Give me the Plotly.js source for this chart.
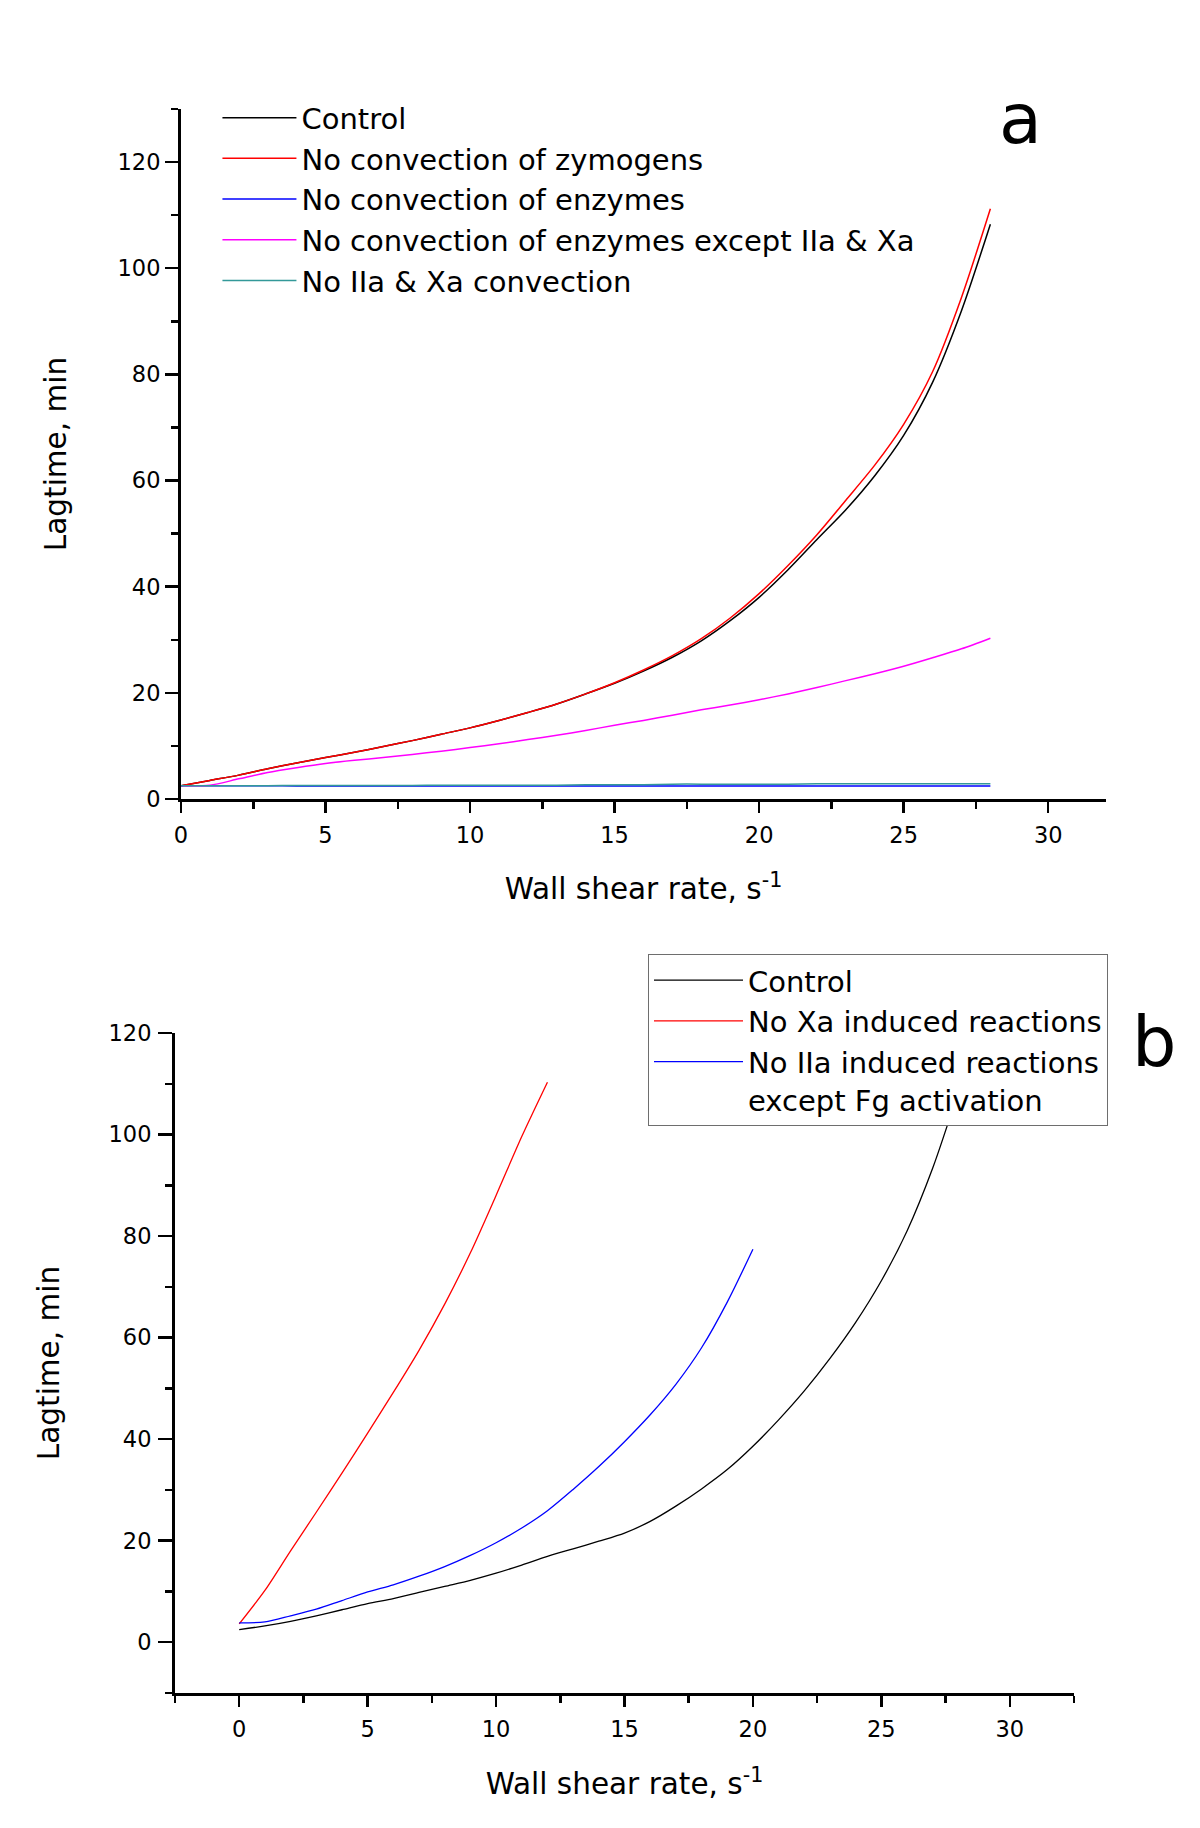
<!DOCTYPE html>
<html>
<head>
<meta charset="utf-8">
<script src="https://cdn.plot.ly/plotly-3.0.1.min.js"></script>
<style>
  body { margin: 0; background: #fff; }
  #grafico { width: 1200px; height: 1828px; }
</style>
</head>
<body>
<div id="grafico"></div>
<script>
// panel a: wall shear rate, s^-1
const xA = [0, 1, 2, 3, 4, 5, 6, 7, 8, 9, 10, 11, 12, 13, 14, 15, 16, 17, 18, 19, 20, 21, 22, 23, 24, 25, 26, 27, 28];
const controlA = [2.5, 3.5, 4.5, 5.7, 6.8, 7.8, 8.8, 9.9, 11.0, 12.2, 13.4, 14.8, 16.3, 17.9, 19.8, 21.8, 24.1, 26.7, 29.8, 33.6, 38.0, 43.2, 48.9, 54.5, 60.9, 68.5, 78.5, 92.0, 108.3];
const zymogensA = [2.5, 3.5, 4.5, 5.7, 6.8, 7.8, 8.8, 9.9, 11.0, 12.2, 13.4, 14.8, 16.3, 17.9, 19.8, 21.9, 24.3, 27.0, 30.2, 34.1, 38.7, 44.0, 49.8, 56.3, 62.9, 70.6, 80.5, 94.5, 111.2];
const enzymesA = [2.5, 2.5, 2.5, 2.5, 2.45, 2.45, 2.45, 2.45, 2.45, 2.45, 2.45, 2.45, 2.45, 2.45, 2.45, 2.45, 2.45, 2.45, 2.45, 2.45, 2.45, 2.45, 2.45, 2.45, 2.45, 2.45, 2.45, 2.45, 2.45];
const exceptA = [2.5, 2.6, 3.8, 5.0, 5.9, 6.7, 7.3, 7.8, 8.4, 9.0, 9.7, 10.4, 11.2, 12.0, 12.9, 13.9, 14.8, 15.8, 16.8, 17.7, 18.7, 19.8, 21.0, 22.3, 23.6, 25.0, 26.6, 28.3, 30.3];
const noIIaXaA = [2.5, 2.5, 2.5, 2.5, 2.55, 2.55, 2.55, 2.55, 2.55, 2.6, 2.6, 2.6, 2.6, 2.6, 2.7, 2.7, 2.7, 2.8, 2.8, 2.8, 2.8, 2.8, 2.85, 2.85, 2.85, 2.85, 2.85, 2.85, 2.85];
const namesA = ['Control', 'No convection of zymogens', 'No convection of enzymes',
                'No convection of enzymes except IIa & Xa', 'No IIa & Xa convection'];
const colorsA = ['#000000', '#ff0000', '#0000ff', '#ff00ff', '#339999'];

// panel b
const xB = [0, 1, 2, 3, 4, 5, 6, 7, 8, 9, 10, 11, 12, 13, 14, 15, 16, 17, 18, 19, 20, 21, 22, 23, 24, 25, 26, 27, 28];
const controlB = [2.5, 3.2, 4.1, 5.2, 6.4, 7.6, 8.6, 9.8, 11.0, 12.2, 13.6, 15.2, 16.9, 18.4, 19.9, 21.5, 23.8, 26.8, 30.2, 34.0, 38.6, 43.8, 49.5, 55.9, 63.0, 71.2, 81.0, 93.4, 108.5];
const xBXa = [0, 1, 2, 3, 4, 5, 6, 7, 8, 9, 10, 11, 12];
const noXaB = [3.6, 10.2, 18.0, 25.6, 33.3, 41.2, 49.2, 57.5, 66.6, 76.7, 88.0, 99.6, 110.3];
const xBIIa = [0, 1, 2, 3, 4, 5, 6, 7, 8, 9, 10, 11, 12, 13, 14, 15, 16, 17, 18, 19, 20];
const noIIaB = [3.8, 4.0, 5.2, 6.5, 8.2, 9.9, 11.3, 13.0, 14.9, 17.1, 19.6, 22.5, 25.9, 30.1, 34.6, 39.5, 44.8, 50.8, 58.0, 67.0, 77.4];
const namesB = ['Control', 'No Xa induced reactions', 'No IIa induced reactions<br>except Fg activation'];
const colorsB = ['#000000', '#ff0000', '#0000ff'];

const FONT = 'DejaVu Sans, Verdana, sans-serif';

function line(x, y, name, color, xax, yax, leg, w) {
    return {
        x: x, y: y, name: name, type: 'scatter', mode: 'lines',
        line: { color: color, width: w, shape: 'spline', smoothing: 0.8 },
        xaxis: xax, yaxis: yax, legend: leg
    };
}

let seriesA = [controlA, zymogensA, enzymesA, exceptA, noIIaXaA];
let traces = seriesA.map((s, i) => line(xA, s, namesA[i], colorsA[i], 'x', 'y', 'legend', 1.5));
traces.push(line(xB, controlB, namesB[0], colorsB[0], 'x2', 'y2', 'legend2', 1.3));
traces.push(line(xBXa, noXaB, namesB[1], colorsB[1], 'x2', 'y2', 'legend2', 1.3));
traces.push(line(xBIIa, noIIaB, namesB[2], colorsB[2], 'x2', 'y2', 'legend2', 1.3));

function axis(extra) {
    return Object.assign({
        showline: true, linewidth: 3, linecolor: '#000',
        ticks: 'outside', tickwidth: 2.5, tickcolor: '#000',
        showgrid: false, zeroline: false, fixedrange: true,
        tickfont: { family: FONT, size: 22.5, color: '#000' }
    }, extra);
}

function titleOf(text, standoff) {
    return { text: text, font: { family: FONT, size: 29.5, color: '#000' }, standoff: standoff };
}

let layout = {
    width: 1200, height: 1828,
    margin: { l: 0, r: 0, t: 0, b: 0 },
    paper_bgcolor: '#fff', plot_bgcolor: '#fff',
    font: { family: FONT, color: '#000' },
    xaxis: axis({ domain: [0.15083, 0.92167], range: [0, 32], anchor: 'y', tick0: 0, dtick: 5, ticklen: 11,
                  ticklabelstandoff: 3, title: titleOf('Wall shear rate, s<sup>-1</sup>', 32),
                  minor: { tick0: 0, dtick: 2.5, ticks: 'outside', ticklen: 7, tickwidth: 2.5, tickcolor: '#000', showgrid: false } }),
    yaxis: axis({ domain: [0.56291, 0.94037], range: [0, 130], anchor: 'x', tick0: 0, dtick: 20, ticklen: 13,
                  ticklabelstandoff: 0, title: titleOf('Lagtime, min', 43),
                  minor: { tick0: 0, dtick: 10, ticks: 'outside', ticklen: 7, tickwidth: 2.5, tickcolor: '#000', showgrid: false } }),
    xaxis2: axis({ domain: [0.14583, 0.895], range: [-2.5, 32.5], anchor: 'y2', tick0: 0, dtick: 5, ticklen: 11,
                   ticklabelstandoff: 3, title: titleOf('Wall shear rate, s<sup>-1</sup>', 33),
                   minor: { tick0: 0, dtick: 2.5, ticks: 'outside', ticklen: 7, tickwidth: 2.5, tickcolor: '#000', showgrid: false } }),
    yaxis2: axis({ domain: [0.07385, 0.4349], range: [-10, 120], anchor: 'x2', tick0: 0, dtick: 20, ticklen: 14,
                   ticklabelstandoff: 2, title: titleOf('Lagtime, min', 41),
                   minor: { tick0: 0, dtick: 10, ticks: 'outside', ticklen: 7, tickwidth: 2.5, tickcolor: '#000', showgrid: false } }),
    legend: {
        x: 0.1812, y: 0.9495, xanchor: 'left', yanchor: 'top',
        bgcolor: 'rgba(0,0,0,0)', borderwidth: 0, itemwidth: 74,
        font: { family: FONT, size: 29, color: '#000' }
    },
    legend2: {
        x: 0.54, y: 0.4782, xanchor: 'left', yanchor: 'top',
        bgcolor: '#fff', bordercolor: '#6e6e6e', borderwidth: 1, itemwidth: 89, valign: 'top',
        font: { family: FONT, size: 29, color: '#000' }
    },
    annotations: [
        { text: 'a', xref: 'paper', yref: 'paper', x: 0.8503, y: 0.9348, xanchor: 'center', yanchor: 'middle',
          showarrow: false, font: { family: FONT, size: 70, color: '#000' } },
        { text: 'b', xref: 'paper', yref: 'paper', x: 0.962, y: 0.4302, xanchor: 'center', yanchor: 'middle',
          showarrow: false, font: { family: FONT, size: 70, color: '#000' } }
    ]
};

Plotly.newPlot('grafico', traces, layout, { displayModeBar: false, staticPlot: true });
</script>
</body>
</html>
